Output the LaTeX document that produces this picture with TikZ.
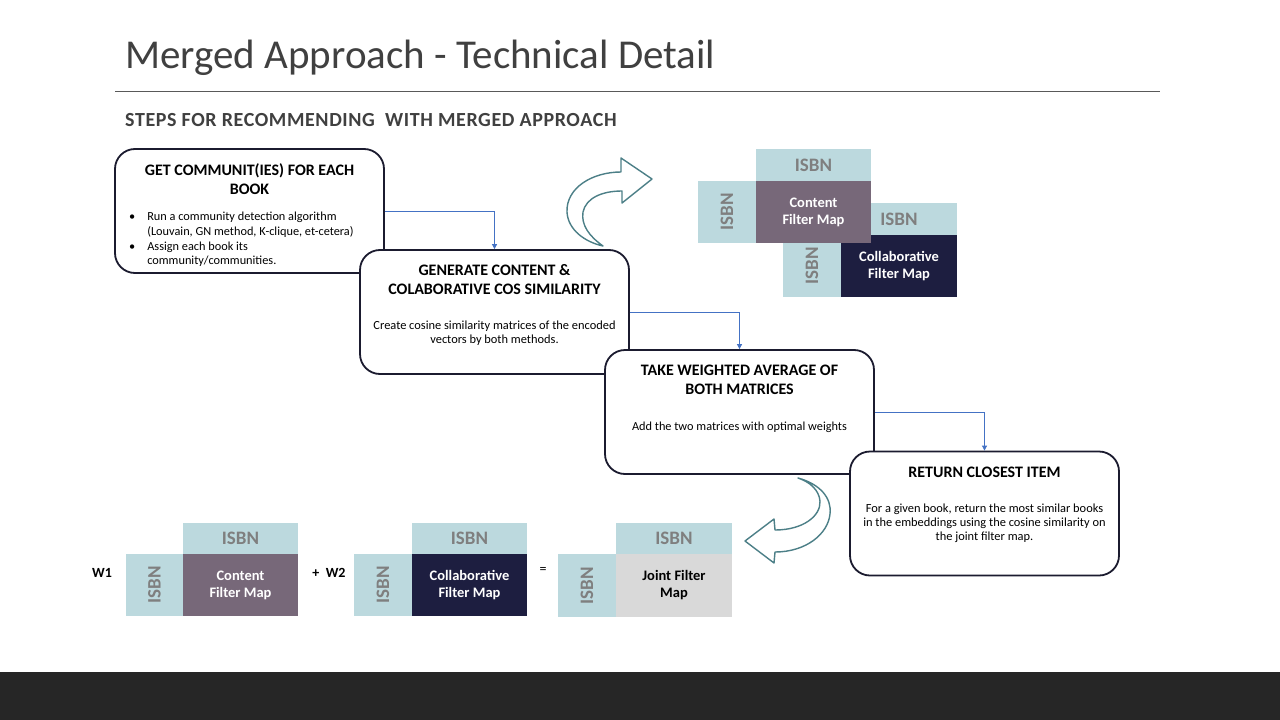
\documentclass[tikz,border=0pt]{standalone}
\usepackage{fontspec}
\setmainfont{Carlito}
\usetikzlibrary{arrows.meta}

\definecolor{titlegray}{HTML}{404040}
\definecolor{rulegray}{HTML}{595959}
\definecolor{boxline}{HTML}{1B1B2F}
\definecolor{flowblue}{HTML}{4472C4}
\definecolor{isbnblue}{HTML}{BCD9DE}
\definecolor{isbngray}{HTML}{7F7F7F}
\definecolor{contentmauve}{HTML}{776879}
\definecolor{collabnavy}{HTML}{1D1E40}
\definecolor{jointgray}{HTML}{D9D9D9}
\definecolor{arrowteal}{HTML}{4C7F87}
\definecolor{footerdark}{HTML}{262626}

\newcommand{\fs}[2]{\fontsize{#1}{#2}\selectfont}

\tikzset{
  stepbox/.style={draw=boxline, line width=1.8pt, fill=white, rounded corners=20pt,
    minimum width=269pt, minimum height=124pt, inner sep=0pt},
  steptitle/.style={font=\bfseries\fs{16}{19}, align=center, text=black, inner sep=0pt},
  stepbody/.style={font=\fs{12.4}{14}, align=center, text=black, inner sep=0pt},
  flow/.style={draw=flowblue, line width=0.8pt, -{Triangle[length=5pt,width=5pt]}},
  cell/.style={inner sep=0pt, outer sep=0pt, align=center},
  isbnh/.style={cell, fill=isbnblue, text=isbngray, font=\bfseries\fs{19}{22}},
  isbnv/.style={cell, fill=isbnblue},
  isbnlabel/.style={rotate=90, text=isbngray, font=\bfseries\fs{19}{22}, inner sep=0pt},
  maplabel/.style={font=\bfseries\fs{14.5}{17}},
  bigarrow/.style={draw=arrowteal, line width=1.4pt, fill=white, line join=round},
  weight/.style={font=\bfseries\fs{14}{17}, text=black, inner sep=0pt}
}

\begin{document}
\begin{tikzpicture}[x=1pt, y=-1pt]
\useasboundingbox (0,0) rectangle (1280,720);
\fill[white] (0,0) rectangle (1280,720);

% heading
\node[anchor=base west, inner sep=0pt, text=titlegray, font=\fs{41}{48}] (title) at (125,68) {Merged Approach - Technical Detail};
\draw[rulegray, line width=0.9pt] (115,91) -- (1160,91);
\node[anchor=base west, inner sep=0pt, text=titlegray, font=\bfseries\fs{20}{24}\addfontfeatures{LetterSpace=3}] (subtitle) at (125,126) {STEPS FOR RECOMMENDING\ \ WITH MERGED APPROACH};

% footer band
\fill[footerdark] (0,672) rectangle (1280,720);

% step 1
\node[stepbox] (s1) at (249.5,211) {};
\node[steptitle] (s1t) at (249.5,179.5) {GET COMMUNIT(IES) FOR EACH\\BOOK};
\node[anchor=west, inner sep=0pt, font=\fs{12.3}{14.7}, text=black] (s1b) at (129,240)
  {\begin{tabular}{@{}l@{\hspace{12pt}}l@{}}
   \textbullet & Run a community detection algorithm\\
               & (Louvain, GN method, K-clique, et-cetera)\\
   \textbullet & Assign each book its\\
               & community/communities.
   \end{tabular}};

% step 2
\node[stepbox] (s2) at (494.5,312) {};
\node[steptitle] (s2t) at (494.5,279.5) {GENERATE CONTENT \&\\COLABORATIVE COS SIMILARITY};
\node[stepbody] (s2b) at (494.5,333) {Create cosine similarity matrices of the encoded\\vectors by both methods.};

% step 3
\node[stepbox] (s3) at (739.5,412) {};
\node[steptitle] (s3t) at (739.5,379.5) {TAKE WEIGHTED AVERAGE OF\\BOTH MATRICES};
\node[stepbody, font=\fs{12.3}{14}] (s3b) at (739.5,427) {Add the two matrices with optimal weights};

% step 4
\node[stepbox] (s4) at (984.5,513.5) {};
\node[steptitle] (s4t) at (984.5,472) {RETURN CLOSEST ITEM};
\node[stepbody] (s4b) at (984.5,523) {For a given book, return the most similar books\\in the embeddings using the cosine similarity on\\the joint filter map.};

% flow connectors
\draw[flow] (s1.east) -| (s2.north);
\draw[flow] (s2.east) -| (s3.north);
\draw[flow] (s3.east) -| (s4.north);

% curved arrow toward the filter maps
\draw[bigarrow] (652,179) -- (621,158) -- (621,172)
  .. controls (592,172) and (566,188) .. (567,212)
  .. controls (568,230) and (585,242) .. (603,246)
  .. controls (589,236) and (581,225) .. (583,212)
  .. controls (586,198) and (602,191) .. (622,191)
  -- (622,203) -- cycle;

% curved arrow toward the weighted sum
\draw[bigarrow] (745,541) -- (774,519) -- (775,530)
  .. controls (803,530) and (821,516) .. (820,501)
  .. controls (819,490) and (810,482) .. (798,478)
  .. controls (820,484) and (832,498) .. (830,514)
  .. controls (828,534) and (806,552) .. (775,552)
  -- (774,563) -- cycle;

% filter maps, upper right
\node[isbnh, minimum width=116pt, minimum height=32pt] (c2top) at (899,219) {ISBN};
\node[isbnv, minimum width=58pt, minimum height=62pt] (c2side) at (812,266) {};
\node[isbnlabel] (c2sidet) at (812,266) {ISBN};
\node[cell, fill=collabnavy, text=white, maplabel, minimum width=116pt, minimum height=62pt] (c2map) at (899,266) {Collaborative\\Filter Map};

\node[isbnh, minimum width=115pt, minimum height=32pt] (c1top) at (813.5,165) {ISBN};
\node[isbnv, minimum width=58pt, minimum height=62pt] (c1side) at (727,212) {};
\node[isbnlabel] (c1sidet) at (727,212) {ISBN};
\node[cell, fill=contentmauve, text=white, maplabel, minimum width=115pt, minimum height=62pt] (c1map) at (813.5,212) {Content\\Filter Map};

% weighted sum, bottom row
\node[weight] (w1) at (102,573) {W1};
\node[isbnh, minimum width=115pt, minimum height=31pt] (a1top) at (240.5,538.5) {ISBN};
\node[isbnv, minimum width=57pt, minimum height=62pt] (a1side) at (154.5,585) {};
\node[isbnlabel] (a1sidet) at (154.5,585) {ISBN};
\node[cell, fill=contentmauve, text=white, maplabel, minimum width=115pt, minimum height=62pt] (a1map) at (240.5,585) {Content\\Filter Map};

\node[weight] (w2) at (329,573) {+\ \ W2};
\node[isbnh, minimum width=115pt, minimum height=31pt] (a2top) at (469.5,538.5) {ISBN};
\node[isbnv, minimum width=58pt, minimum height=62pt] (a2side) at (383,585) {};
\node[isbnlabel] (a2sidet) at (383,585) {ISBN};
\node[cell, fill=collabnavy, text=white, maplabel, minimum width=115pt, minimum height=62pt] (a2map) at (469.5,585) {Collaborative\\Filter Map};

\node[weight, font=\fs{14}{17}] (eq) at (543,570) {=};
\node[isbnh, minimum width=116pt, minimum height=31pt] (a3top) at (674,538.5) {ISBN};
\node[isbnv, minimum width=58pt, minimum height=63pt] (a3side) at (587,585.5) {};
\node[isbnlabel] (a3sidet) at (587,585.5) {ISBN};
\node[cell, fill=jointgray, text=black, maplabel, minimum width=116pt, minimum height=63pt] (a3map) at (674,585.5) {Joint Filter\\Map};
\end{tikzpicture}
\end{document}
